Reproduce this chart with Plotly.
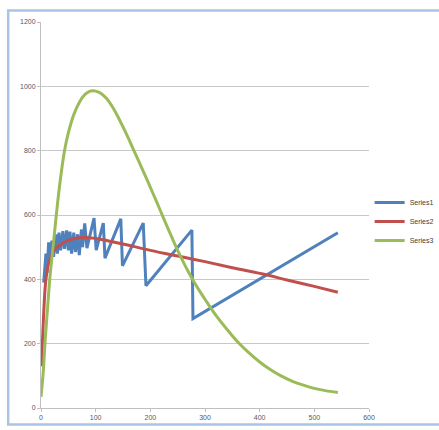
import plotly.graph_objects as go

# Series1 (sawtooth) vertices
s1_x = [5, 9, 11, 14, 17, 20, 23, 27, 30, 33, 36, 40, 43, 47, 50, 53, 56, 60, 63, 67, 70, 74, 76,
        80, 84, 97, 101, 114, 117, 146, 149, 187, 192, 276, 278, 543]
s1_y = [390, 480, 420, 515, 455, 520, 470, 540, 480, 545, 490, 550, 495, 552, 490, 548, 480, 545, 485, 540, 475, 555, 500,
        574, 497, 590, 491, 575, 466, 588, 442, 575, 380, 553, 278, 545]

# Series2
s2_x = [0.5, 3, 6, 9, 15, 25, 40, 60, 80, 100, 120, 150, 200, 257, 300, 350, 412, 450, 500, 543]
s2_y = [130, 220, 330, 400, 455, 492, 513, 526, 530, 527, 521, 510, 490, 470, 455, 436, 414, 398, 378, 360]

# Series3
s3_x = [0, 4, 8, 12, 16, 22, 28, 35, 43, 50, 60, 70, 80, 90, 95, 100, 110, 120, 130, 140, 150, 160,
        170, 180, 190, 200, 210, 220, 230, 240, 250, 260, 270, 280, 290, 300, 320, 340, 360, 380, 400,
        420, 440, 460, 480, 500, 520, 543]
s3_y = [35, 110, 220, 310, 400, 500, 600, 705, 800, 855, 912, 950, 974, 985, 986, 985, 978, 962, 938, 908, 874, 838,
        800, 763, 725, 686, 647, 607, 567, 528, 490, 455, 422, 392, 364, 338, 288, 245, 205, 172, 143,
        119, 99, 83, 71, 61, 54, 48]

x_ticks = [0, 100, 200, 300, 400, 500, 600]
y_ticks = [0, 200, 400, 600, 800, 1000, 1200]

fig = go.Figure()
fig.add_trace(go.Scatter(x=s1_x, y=s1_y, mode="lines", name="Series1",
                         line=dict(color="#4F81BD", width=3)))
fig.add_trace(go.Scatter(x=s2_x, y=s2_y, mode="lines", name="Series2", line_shape="spline",
                         line=dict(color="#C0504D", width=3)))
fig.add_trace(go.Scatter(x=s3_x, y=s3_y, mode="lines", name="Series3", line_shape="spline",
                         line=dict(color="#9BBB59", width=3)))

fig.update_layout(
    width=439, height=430,
    margin=dict(l=41, r=70, t=22, b=22, autoexpand=False),
    paper_bgcolor="white", plot_bgcolor="white",
    font=dict(family="Liberation Sans, Arial, sans-serif", size=7, color="#595959"),
    showlegend=True,
    legend=dict(x=1.002, y=0.483, xanchor="left", yanchor="middle",
                font=dict(size=7, color="#404040"), bgcolor="rgba(0,0,0,0)",
                itemwidth=30, tracegroupgap=0),
    xaxis=dict(range=[0, 600], tickvals=x_ticks, showgrid=False, zeroline=False,
               showline=True, linecolor="#BFBFBF", linewidth=1,
               ticks="outside", ticklen=3, tickcolor="#BFBFBF",
               tickfont=dict(size=7, color="#595959")),
    yaxis=dict(range=[0, 1200], tickvals=y_ticks, showgrid=True, gridcolor="#C8C8C8",
               gridwidth=1, zeroline=False, showline=True, linecolor="#BFBFBF", linewidth=1,
               ticks="outside", ticklen=3, tickcolor="#BFBFBF",
               tickfont=dict(size=7, color="#595959")),
    shapes=[dict(type="rect", xref="paper", yref="paper",
                 x0=-0.1, x1=1.25, y0=-0.043, y1=1.03,
                 line=dict(color="#A9C4E4", width=2.5), layer="below")],
)

fig.write_html("out.html")
